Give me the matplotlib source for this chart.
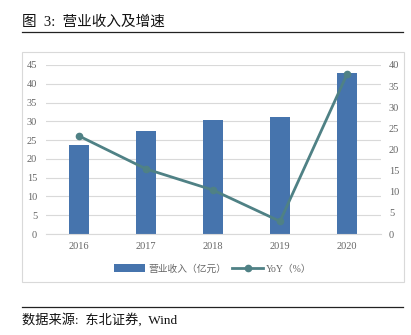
import numpy as np
import matplotlib
matplotlib.use('Agg')
import matplotlib.pyplot as plt
from matplotlib.lines import Line2D
from matplotlib.patches import Rectangle

years = ['2016', '2017', '2018', '2019', '2020']
revenue = [23.7, 27.4, 30.4, 31.2, 42.9]
yoy = [23.2, 15.4, 10.4, 3.0, 37.8]

bar_color = '#4674ad'
line_color = '#4f8185'
tick_color = '#666666'
fonts = ['Liberation Serif', 'Noto Sans CJK SC']

plt.rcParams['font.family'] = fonts

fig = plt.figure(figsize=(4.11, 3.35), dpi=100)

# title and frame lines
fig.text(22 / 411, 1 - 22 / 335, '图  3:  营业收入及增速', fontsize=10.5,
         fontweight='medium', va='center', ha='left', color='#111111')
fig.add_artist(Line2D([22 / 411, 403 / 411], [1 - 32 / 335, 1 - 32 / 335],
                      color='#222222', lw=0.9))
fig.add_artist(Rectangle((22 / 411, 1 - 282 / 335), 382 / 411, 230 / 335,
                         fill=False, edgecolor='#d9d9d9', lw=0.8))
fig.add_artist(Line2D([22 / 411, 403 / 411], [1 - 307 / 335, 1 - 307 / 335],
                      color='#222222', lw=0.9))
fig.text(22 / 411, 1 - 320 / 335, '数据来源:  东北证券,  Wind', fontsize=9.5,
         va='center', ha='left', color='#111111')

ax = fig.add_axes([45.5 / 411, 1 - 234 / 335, 335 / 411, 169 / 335])
x = np.arange(len(years))
ax.bar(x, revenue, width=0.31, color=bar_color, zorder=2, label='营业收入（亿元）')
ax.set_xlim(-0.5, len(years) - 0.5)
ax.set_ylim(0, 45)
ax.set_yticks(np.arange(0, 46, 5))
ax.set_xticks(x)
ax.set_xticklabels(years)
ax.grid(axis='y', color='#d9d9d9', lw=0.8, zorder=0)
for s in ['top', 'right', 'left']:
    ax.spines[s].set_visible(False)
ax.spines['bottom'].set_color('#d9d9d9')
ax.tick_params(length=0, labelsize=7.5, colors=tick_color, pad=6)

ax2 = ax.twinx()
ax2.plot(x, yoy, color=line_color, lw=2, marker='o', markersize=4.5,
         zorder=3, label='YoY（%）')
ax2.set_ylim(0, 40)
ax2.set_yticks(np.arange(0, 41, 5))
for s in ax2.spines.values():
    s.set_visible(False)
ax2.tick_params(length=0, labelsize=7.5, colors=tick_color, pad=6)

h1, l1 = ax.get_legend_handles_labels()
h2, l2 = ax2.get_legend_handles_labels()
fig.legend(h1 + h2, l1 + l2, loc='center', bbox_to_anchor=(213 / 411, 1 - 269 / 335),
           ncol=2, frameon=False, fontsize=7, handlelength=3.2, handleheight=0.9,
           columnspacing=0.6, handletextpad=0.3, labelcolor=tick_color)

fig.savefig('out.png', dpi=100)
